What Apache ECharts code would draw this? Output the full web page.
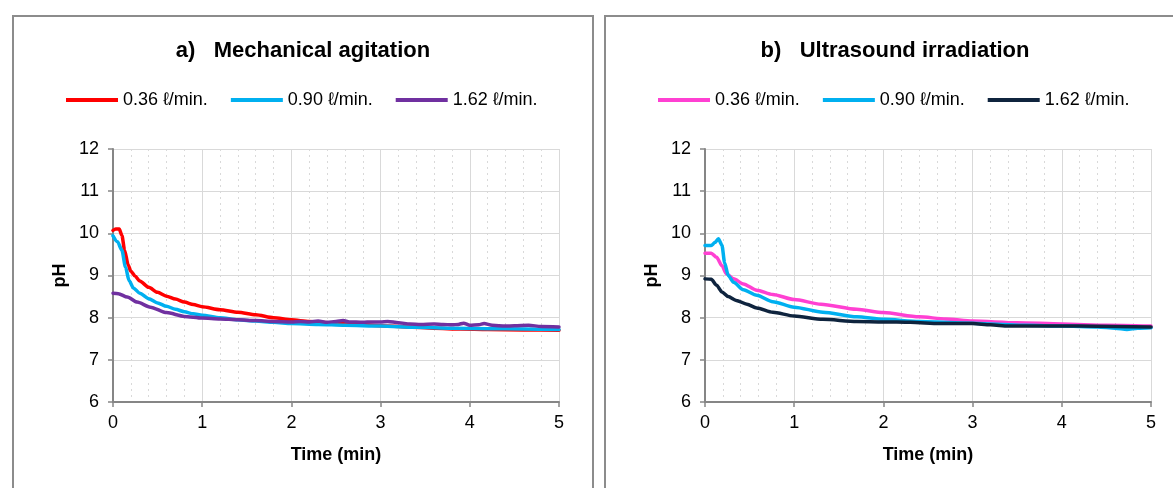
<!DOCTYPE html>
<html>
<head>
<meta charset="utf-8">
<script src="https://cdn.jsdelivr.net/npm/echarts@6/dist/echarts.min.js"></script>
<style>
html,body{margin:0;padding:0;background:#fff;}
.c{position:absolute;left:0;top:0;width:1173px;height:488px;}
</style>
</head>
<body>
<div id="chartA" class="c"></div>
<div id="chartB" class="c"></div>
<script>
// ---------- DATA ----------
const xTicks = [0, 1, 2, 3, 4, 5];
const yTicks = [6, 7, 8, 9, 10, 11, 12];
const seriesNames = ['0.36 ℓ/min.', '0.90 ℓ/min.', '1.62 ℓ/min.'];
const titleA = 'a)   Mechanical agitation';
const titleB = 'b)   Ultrasound irradiation';

// a) Mechanical agitation
const timeA036 = [0, 0.03, 0.07, 0.1, 0.13, 0.17, 0.2, 0.25, 0.3, 0.4, 0.5, 0.6, 0.7, 0.8, 0.9, 1.0, 1.2, 1.4, 1.6, 1.8, 2.0, 2.2, 2.4, 2.6, 2.8, 3.0, 3.3, 3.6, 3.9, 4.2, 4.6, 5.0];
const phA036   = [10.07, 10.1, 10.1, 9.95, 9.6, 9.25, 9.1, 8.98, 8.87, 8.72, 8.6, 8.51, 8.44, 8.37, 8.31, 8.26, 8.19, 8.13, 8.07, 8.0, 7.95, 7.91, 7.88, 7.86, 7.83, 7.81, 7.78, 7.75, 7.73, 7.72, 7.71, 7.7];
const timeA090 = [0, 0.05, 0.1, 0.14, 0.18, 0.23, 0.3, 0.4, 0.5, 0.6, 0.7, 0.8, 0.9, 1.0, 1.2, 1.4, 1.6, 1.8, 2.0, 2.3, 2.6, 3.0, 3.4, 3.8, 4.2, 4.6, 5.0];
const phA090   = [9.94, 9.8, 9.6, 9.2, 8.88, 8.7, 8.58, 8.45, 8.35, 8.27, 8.2, 8.14, 8.09, 8.06, 8.0, 7.95, 7.92, 7.89, 7.86, 7.84, 7.82, 7.8, 7.77, 7.75, 7.74, 7.73, 7.72];
const timeA162 = [0, 0.06, 0.16, 0.27, 0.42, 0.6, 0.8, 1.0, 1.2, 1.4, 1.6, 1.8, 2.0, 2.1, 2.2, 2.3, 2.4, 2.5, 2.58, 2.65, 2.8, 2.9, 3.0, 3.08, 3.2, 3.33, 3.45, 3.6, 3.7, 3.8, 3.87, 3.93, 4.0, 4.1, 4.16, 4.25, 4.4, 4.5, 4.66, 4.8, 5.0];
const phA162   = [8.58, 8.57, 8.49, 8.37, 8.25, 8.12, 8.03, 7.99, 7.97, 7.95, 7.93, 7.91, 7.9, 7.91, 7.9, 7.92, 7.89, 7.91, 7.93, 7.9, 7.89, 7.9, 7.9, 7.91, 7.88, 7.85, 7.84, 7.85, 7.84, 7.83, 7.84, 7.87, 7.82, 7.83, 7.86, 7.82, 7.8, 7.81, 7.82, 7.79, 7.78];

// b) Ultrasound irradiation
const timeB036 = [0, 0.07, 0.13, 0.19, 0.24, 0.32, 0.43, 0.58, 0.76, 1.0, 1.3, 1.7, 2.0, 2.4, 2.7, 3.0, 3.5, 4.0, 4.5, 5.0];
const phB036   = [9.53, 9.53, 9.43, 9.23, 9.04, 8.92, 8.8, 8.65, 8.55, 8.43, 8.32, 8.2, 8.12, 8.02, 7.97, 7.92, 7.88, 7.85, 7.82, 7.8];
const timeB090 = [0, 0.07, 0.11, 0.15, 0.19, 0.22, 0.26, 0.32, 0.43, 0.58, 0.76, 1.0, 1.32, 1.7, 2.0, 2.4, 2.8, 3.2, 3.6, 4.0, 4.4, 4.6, 4.73, 4.85, 5.0];
const phB090   = [9.71, 9.71, 9.78, 9.87, 9.72, 9.3, 9.0, 8.84, 8.66, 8.53, 8.38, 8.25, 8.13, 8.02, 7.96, 7.91, 7.88, 7.85, 7.82, 7.8, 7.78, 7.75, 7.72, 7.75, 7.76];
const timeB162 = [0, 0.07, 0.13, 0.19, 0.26, 0.35, 0.47, 0.58, 0.76, 1.0, 1.32, 1.7, 2.0, 2.3, 2.63, 3.0, 3.2, 3.4, 3.8, 4.2, 4.6, 5.0];
const phB162   = [8.92, 8.91, 8.77, 8.61, 8.5, 8.41, 8.32, 8.23, 8.13, 8.04, 7.96, 7.91, 7.9, 7.89, 7.86, 7.86, 7.83, 7.8, 7.8, 7.8, 7.79, 7.78];

const colorsA = ['#FF0000', '#00B0F0', '#7030A0'];
const colorsB = ['#FF40D2', '#00B0F0', '#0F243E'];

// ---------- BUILD ----------
const FONT = '"Liberation Sans", Arial, sans-serif';
function zip(t, v) { return t.map((x, i) => [x, v[i]]); }

function makeOption(cfg) {
  const gridColor = '#D9D9D9';
  const axisColor = '#868686';
  return {
    backgroundColor: cfg.bg,
    animation: false,
    graphic: [
      { type: 'rect', shape: { x: cfg.frame[0], y: cfg.frame[1], width: cfg.frame[2], height: cfg.frame[3] },
        style: { fill: 'none', stroke: '#8C8C8C', lineWidth: 2 }, z: 0 },
      { type: 'text', x: cfg.titleX, y: 51,
        style: { text: cfg.title, fill: '#000', font: 'bold 22px ' + FONT, textAlign: 'center', textVerticalAlign: 'middle' } }
    ],
    legend: {
      left: cfg.legendLeft, top: 91, padding: 0,
      icon: 'rect', itemWidth: 52, itemHeight: 4, itemGap: 23,
      textStyle: { fontFamily: FONT, fontSize: 18, color: '#000' },
      data: seriesNames
    },
    grid: { left: cfg.gridLeft, top: 149, width: 446, height: 253, containLabel: false },
    xAxis: {
      type: 'value', min: xTicks[0], max: xTicks[xTicks.length - 1], interval: 1,
      name: 'Time (min)', nameLocation: 'middle', nameGap: 44,
      nameTextStyle: { fontFamily: FONT, fontSize: 18, fontWeight: 'bold', color: '#000' },
      axisLine: { lineStyle: { color: axisColor, width: 2 } },
      axisTick: { show: true, length: 5, lineStyle: { color: axisColor, width: 1.5 } },
      axisLabel: { fontFamily: FONT, fontSize: 18, color: '#000', margin: 12 },
      splitLine: { show: true, lineStyle: { color: gridColor, width: 1 } },
      minorTick: { show: false, splitNumber: 5 },
      minorSplitLine: { show: true, lineStyle: { color: gridColor, width: 1, type: [2, 4] } }
    },
    yAxis: {
      type: 'value', min: yTicks[0], max: yTicks[yTicks.length - 1], interval: 1,
      name: 'pH', nameLocation: 'middle', nameGap: 44,
      nameTextStyle: { fontFamily: FONT, fontSize: 18, fontWeight: 'bold', color: '#000' },
      axisLine: { show: true, lineStyle: { color: axisColor, width: 2 } },
      axisTick: { show: true, length: 5, lineStyle: { color: axisColor, width: 1.5 } },
      axisLabel: { fontFamily: FONT, fontSize: 18, color: '#000', margin: 14 },
      splitLine: { show: true, lineStyle: { color: gridColor, width: 1 } }
    },
    series: cfg.series.map((d, i) => ({
      name: seriesNames[i], type: 'line', data: d,
      showSymbol: false, symbol: 'none',
      smooth: 0.25, smoothMonotone: 'x',
      color: cfg.colors[i],
      lineStyle: { width: 3.5, color: cfg.colors[i], cap: 'round', join: 'round' },
      z: 2 + i
    }))
  };
}

const chartA = echarts.init(document.getElementById('chartA'), null, { renderer: 'canvas' });
chartA.setOption(makeOption({
  bg: '#FFFFFF', frame: [13, 16, 580, 500], title: titleA, titleX: 303,
  legendLeft: 66, gridLeft: 113, colors: colorsA,
  series: [zip(timeA036, phA036), zip(timeA090, phA090), zip(timeA162, phA162)]
}));

const chartB = echarts.init(document.getElementById('chartB'), null, { renderer: 'canvas' });
chartB.setOption(makeOption({
  bg: 'transparent', frame: [605, 16, 600, 500], title: titleB, titleX: 895,
  legendLeft: 658, gridLeft: 705, colors: colorsB,
  series: [zip(timeB036, phB036), zip(timeB090, phB090), zip(timeB162, phB162)]
}));
</script>
</body>
</html>
